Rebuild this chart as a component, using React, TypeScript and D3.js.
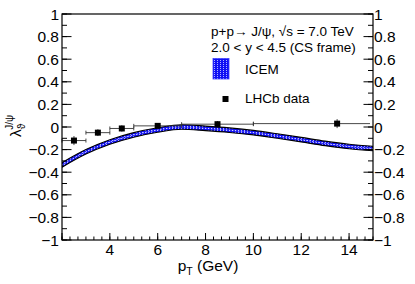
import * as d3 from "d3";

// ICEM band (central value, pT in GeV)
const icemPt = [2, 3, 4, 5, 6, 7, 8, 9, 10, 11, 12, 13, 14, 15];
const icemLambda = [-0.336, -0.22, -0.133, -0.07, -0.027, 0.0, -0.012, -0.028, -0.05, -0.08, -0.112, -0.145, -0.172, -0.19];
const icemHalfWidth = 0.02;

// LHCb data
const lhcbPt = [2.5, 3.5, 4.5, 6, 8.5, 13.5];
const lhcbPtLo = [2, 3, 4, 5, 7, 10];
const lhcbPtHi = [3, 4, 5, 7, 10, 15];
const lhcbLambda = [-0.12, -0.05, -0.013, 0.01, 0.025, 0.03];
const lhcbErr = [0.04, 0.03, 0.028, 0.025, 0.028, 0.04];

const xTicks = [4, 6, 8, 10, 12, 14];
const yTicks = [-1, -0.8, -0.6, -0.4, -0.2, 0, 0.2, 0.4, 0.6, 0.8, 1];

const W = 415;
const H = 284;
const margin = { left: 62, right: 42, top: 14, bottom: 44 };
const font = "'Liberation Sans', Arial, Helvetica, sans-serif";

const fmt = (v: number) => (v < 0 ? "\u2212" + String(Math.abs(v)) : String(v));

export default function App() {
  const x = d3.scaleLinear().domain([2, 15]).range([margin.left, W - margin.right]);
  const y = d3.scaleLinear().domain([-1, 1]).range([H - margin.bottom, margin.top]);
  const [x0, x1] = x.range();
  const [y0, y1] = y.range();

  const band = d3
    .area<number>()
    .x((_d, i) => x(icemPt[i]))
    .y0((d) => y(d - icemHalfWidth))
    .y1((d) => y(d + icemHalfWidth))
    .curve(d3.curveMonotoneX);
  const centre = d3
    .line<number>()
    .x((_d, i) => x(icemPt[i]))
    .y((d) => y(d))
    .curve(d3.curveMonotoneX);

  const xMinor = d3.range(2, 15.001, 1 / 3);
  const yMinor = d3.range(-1, 1.001, 0.1);

  return (
    <svg width={W} height={H} style={{ position: "absolute", left: 0, top: 0, background: "#fff" }} fontFamily={font}>
      <defs>
        <pattern id="hatch" width="3" height="2" patternUnits="userSpaceOnUse">
          <rect width="3" height="2" fill="#1010f4" />
          <rect x="1" y="0" width="1" height="1" fill="#b0b0ff" />
        </pattern>
        <clipPath id="plot">
          <rect x={x0} y={y1} width={x1 - x0} height={y0 - y1} />
        </clipPath>
      </defs>

      {/* ICEM band */}
      <g clipPath="url(#plot)">
        <path d={band(icemLambda) ?? ""} fill="url(#hatch)" stroke="#000" strokeWidth={1.1} />
        <path d={centre(icemLambda) ?? ""} fill="none" stroke="#e0e0ff" strokeWidth={0.8} strokeDasharray="1.5 1.5" />
      </g>

      {/* LHCb points */}
      <g stroke="#333" strokeWidth={0.9}>
        {lhcbPt.map((p, i) => (
          <g key={i}>
            <line x1={x(lhcbPtLo[i])} x2={Math.min(x(lhcbPtHi[i]), x1 - 3)} y1={y(lhcbLambda[i])} y2={y(lhcbLambda[i])} />
            <line x1={x(lhcbPtLo[i])} x2={x(lhcbPtLo[i])} y1={y(lhcbLambda[i]) - 2} y2={y(lhcbLambda[i]) + 2} />
            <line x1={x(p)} x2={x(p)} y1={y(lhcbLambda[i] + lhcbErr[i])} y2={y(lhcbLambda[i] - lhcbErr[i])} />
            <rect x={x(p) - 3} y={y(lhcbLambda[i]) - 3} width={6} height={6} fill="#000" stroke="none" />
          </g>
        ))}
        {lhcbPt.slice(0, -1).map((_p, i) => (
          <line key={"e" + i} x1={x(lhcbPtHi[i])} x2={x(lhcbPtHi[i])} y1={y(lhcbLambda[i]) - 2} y2={y(lhcbLambda[i]) + 2} />
        ))}
      </g>

      {/* frame */}
      <rect x={x0} y={y1} width={x1 - x0} height={y0 - y1} fill="none" stroke="#000" strokeWidth={1.2} />

      {/* x axis ticks */}
      <g stroke="#000" strokeWidth={1}>
        {xMinor.map((v, i) => (
          <line key={i} x1={x(v)} x2={x(v)} y1={y0} y2={y0 - 3.5} />
        ))}
        {[2, ...xTicks].map((v) => (
          <line key={"M" + v} x1={x(v)} x2={x(v)} y1={y0} y2={y0 - 7} />
        ))}
      </g>
      <g fontSize={15.5} textAnchor="middle" fill="#000">
        {xTicks.map((v) => (
          <text key={v} x={x(v)} y={y0 + 15}>
            {fmt(v)}
          </text>
        ))}
      </g>

      {/* y axis ticks, both sides */}
      <g stroke="#000" strokeWidth={1}>
        {yMinor.map((v, i) => (
          <g key={i}>
            <line x1={x0} x2={x0 + 5} y1={y(v)} y2={y(v)} />
            <line x1={x1} x2={x1 - 5} y1={y(v)} y2={y(v)} />
          </g>
        ))}
        {yTicks.map((v) => (
          <g key={"M" + v}>
            <line x1={x0} x2={x0 + 9.5} y1={y(v)} y2={y(v)} />
            <line x1={x1} x2={x1 - 9.5} y1={y(v)} y2={y(v)} />
          </g>
        ))}
      </g>
      <g fontSize={15.5} fill="#000" dominantBaseline="central">
        {yTicks.map((v) => (
          <text key={"l" + v} x={x0 - 3} y={y(v)} textAnchor="end">
            {fmt(v)}
          </text>
        ))}
        {yTicks.map((v) => (
          <text key={"r" + v} x={x1 + 1} y={y(v)} textAnchor="start">
            {fmt(v)}
          </text>
        ))}
      </g>

      {/* axis titles */}
      <text x={208} y={271} fontSize={15.5} textAnchor="middle">
        p<tspan fontSize={10.5} dy={4}>T</tspan>
        <tspan dy={-4}> (GeV)</tspan>
      </text>
      <text transform="translate(21,126) rotate(-90)" fontSize={15.5} textAnchor="middle">
        λ<tspan fontSize={10} dy={4}>ϑ</tspan>
        <tspan fontSize={10} dx={-6} dy={-12}>J/ψ</tspan>
      </text>

      {/* legend */}
      <g fontSize={13.5} fill="#000">
        <text x={211} y={36}>
          p+p→ J/ψ, √s = 7.0 TeV
        </text>
        <text x={211} y={52}>
          2.0 &lt; y &lt; 4.5 (CS frame)
        </text>
        <rect x={213} y={58.5} width={16} height={20.5} fill="url(#hatch)" stroke="#4040ff" strokeWidth={0.8} />
        <text x={245} y={73.5}>ICEM</text>
        <rect x={222.5} y={96} width={6} height={6} fill="#000" />
        <text x={245} y={103}>LHCb data</text>
      </g>
    </svg>
  );
}
